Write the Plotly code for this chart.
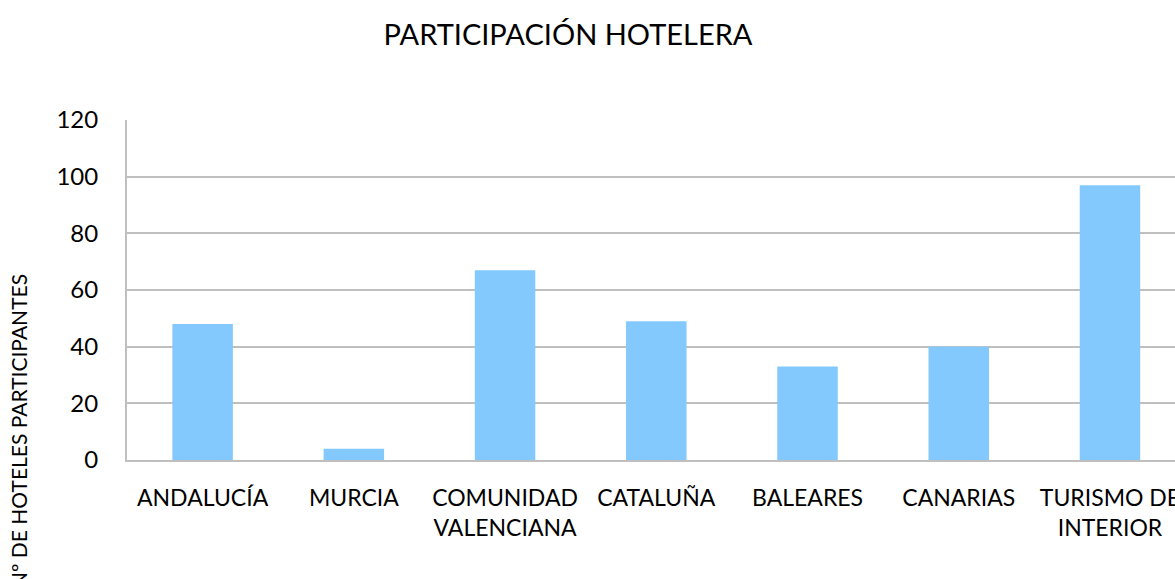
import plotly.graph_objects as go

# hotel participation by region
regiones = ['ANDALUCÍA', 'MURCIA', 'COMUNIDAD<br>VALENCIANA', 'CATALUÑA',
            'BALEARES', 'CANARIAS', 'TURISMO DE<br>INTERIOR']
hoteles = [48, 4, 67, 49, 33, 40, 97]
y_ticks = [0, 20, 40, 60, 80, 100, 120]

fnt = 'Lato'

fig = go.Figure(go.Bar(
    x=list(range(len(regiones))),
    y=hoteles,
    width=0.4,
    marker=dict(color='#83C9FD', line=dict(width=0)),
))

fig.update_layout(
    width=1175,
    height=579,
    paper_bgcolor='white',
    plot_bgcolor='white',
    margin=dict(l=127, r=0, t=120, b=119),
    showlegend=False,
    font=dict(family=fnt, color='black'),
    title=dict(text='PARTICIPACIÓN HOTELERA', x=568 / 1175, xref='container',
               xanchor='center', y=1 - 35 / 579, yref='container', yanchor='middle',
               font=dict(size=29, family=fnt, color='black')),
)

fig.update_xaxes(
    tickmode='array',
    tickvals=list(range(len(regiones))),
    ticktext=regiones,
    range=[-0.5, 6.43],
    showgrid=False,
    showline=True, linecolor='#BFBFBF', linewidth=2,
    ticks='', ticklabelstandoff=16,
    ticklabeloverflow='allow',
    tickfont=dict(size=23, family=fnt, color='black'),
    automargin=False,
    fixedrange=True,
)

fig.update_yaxes(
    range=[0, 120],
    tickvals=y_ticks,
    showgrid=True, gridcolor='#BFBFBF', gridwidth=2,
    showline=True, linecolor='#BFBFBF', linewidth=2,
    zeroline=False,
    ticks='', ticklabelstandoff=22,
    tickfont=dict(size=24, family=fnt, color='black'),
    automargin=False,
)

# y axis title, drawn as a rotated annotation (runs past the bottom edge)
fig.add_annotation(
    text='Nº DE HOTELES PARTICIPANTES',
    xref='paper', yref='paper',
    x=(18 - 127) / 1048, y=(460 - 272) / 340,
    xanchor='center', yanchor='top',
    textangle=-90, showarrow=False,
    font=dict(size=21, family=fnt, color='black'),
)

# drop the default page margin so the chart sits at the window corner
fig.write_html('out.html', config={'displayModeBar': False},
               post_script="document.body.style.margin='0';")
